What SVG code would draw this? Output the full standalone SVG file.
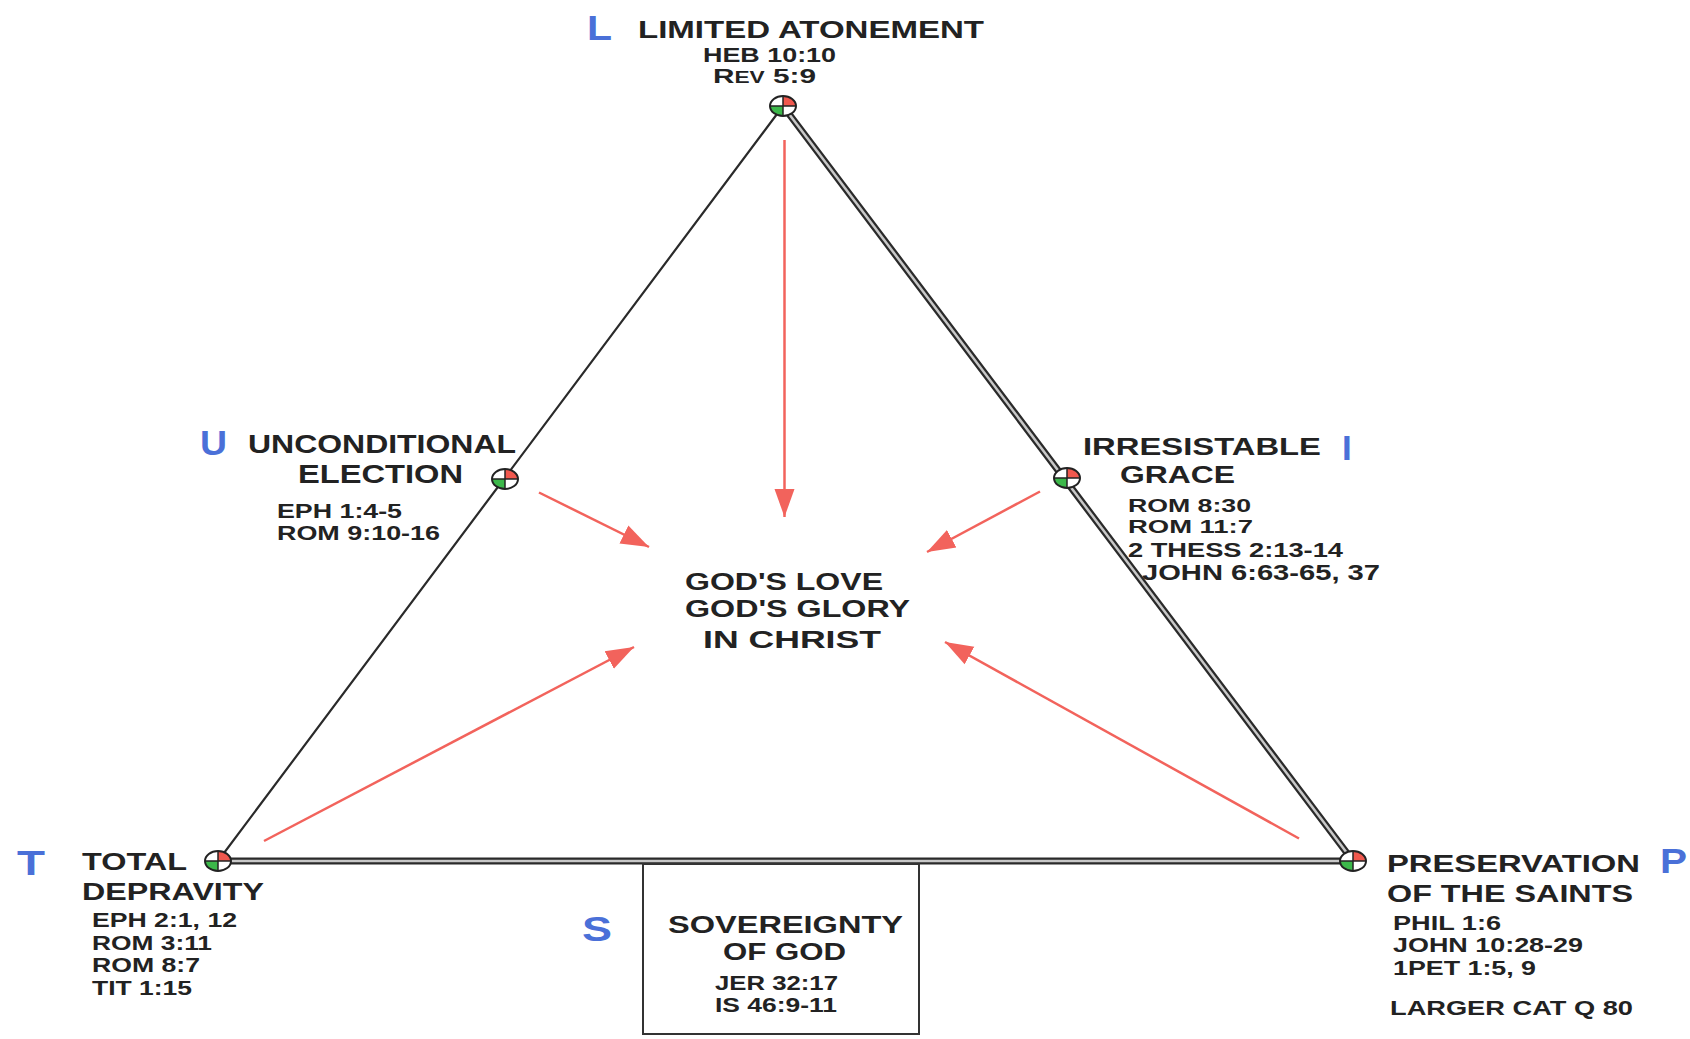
<svg xmlns="http://www.w3.org/2000/svg" width="1690" height="1039" viewBox="0 0 1690 1039">
<defs>
<style>
.t{font-family:"Liberation Sans",Arial,sans-serif;font-weight:bold;fill:#222}
.h{font-size:23px}
.r{font-size:20px}
.b{font-family:"Liberation Sans",Arial,sans-serif;font-weight:bold;fill:#4a70d8;font-size:35px}
.arr{stroke:#f2635c;stroke-width:2.5;fill:none}
.edge{stroke:#2a2a2a;fill:none;stroke-linecap:round}
</style>
<marker id="ah" markerUnits="userSpaceOnUse" markerWidth="30" markerHeight="22" refX="28" refY="11" orient="auto">
<path d="M0,1 L28,11 L0,21 Z" fill="#f2635c"/>
</marker>
<g id="icon">
<ellipse cx="0" cy="0" rx="13" ry="10" fill="#fff"/>
<path d="M0,0 L13,0 A13,10 0 0,0 0,-10 Z" fill="#f0584e"/>
<path d="M0,0 L-13,0 A13,10 0 0,0 0,10 Z" fill="#3cb84a"/>
<line x1="-13" y1="0" x2="13" y2="0" stroke="#222" stroke-width="1.5"/>
<line x1="0" y1="-10" x2="0" y2="10" stroke="#222" stroke-width="1.5"/>
<ellipse cx="0" cy="0" rx="13" ry="10" fill="none" stroke="#222" stroke-width="2"/>
</g>
</defs>
<rect width="1690" height="1039" fill="#fff"/>

<g id="connectors">
<line class="edge" x1="218" y1="861" x2="783" y2="106" stroke-width="2.2"/>
<line class="edge" x1="783" y1="106" x2="1353" y2="861" stroke-width="7"/>
<line x1="783" y1="106" x2="1353" y2="861" stroke="#c8c8c8" stroke-width="2.5"/>
<line class="edge" x1="218" y1="861" x2="1353" y2="861" stroke-width="7"/>
<line x1="218" y1="861" x2="1353" y2="861" stroke="#c8c8c8" stroke-width="2.5"/>
<line class="arr" x1="784.5" y1="140" x2="784.5" y2="517" marker-end="url(#ah)"/>
<line class="arr" x1="539" y1="492.5" x2="649" y2="547" marker-end="url(#ah)"/>
<line class="arr" x1="1040" y1="491.5" x2="927" y2="552" marker-end="url(#ah)"/>
<line class="arr" x1="264" y1="841" x2="634" y2="647" marker-end="url(#ah)"/>
<line class="arr" x1="1299" y1="838.5" x2="945" y2="642" marker-end="url(#ah)"/>
</g>

<g id="node-L">
<use href="#icon" x="783" y="106"/>
<text class="b" x="587" y="40" textLength="25" lengthAdjust="spacingAndGlyphs">L</text>
<text class="t h" x="638" y="38" textLength="346" lengthAdjust="spacingAndGlyphs">LIMITED ATONEMENT</text>
<text class="t r" x="703" y="61.5" textLength="133" lengthAdjust="spacingAndGlyphs">HEB 10:10</text>
<text class="t" x="713" y="83" textLength="103" lengthAdjust="spacingAndGlyphs"><tspan font-size="21">R</tspan><tspan font-size="16">EV</tspan><tspan font-size="21"> 5:9</tspan></text>
</g>

<g id="node-U">
<use href="#icon" x="505" y="479"/>
<text class="b" x="200" y="455" font-size="32" textLength="27" lengthAdjust="spacingAndGlyphs">U</text>
<text class="t" x="248" y="453" font-size="25" textLength="268" lengthAdjust="spacingAndGlyphs">UNCONDITIONAL</text>
<text class="t" x="298" y="483" font-size="25" textLength="165" lengthAdjust="spacingAndGlyphs">ELECTION</text>
<text class="t r" x="277" y="518" textLength="125" lengthAdjust="spacingAndGlyphs">EPH 1:4-5</text>
<text class="t r" x="277" y="540" textLength="163" lengthAdjust="spacingAndGlyphs">ROM 9:10-16</text>
</g>

<g id="node-I">
<use href="#icon" x="1067" y="478"/>
<text class="b" x="1342" y="460" font-size="37">I</text>
<text class="t h" x="1083" y="455" textLength="238" lengthAdjust="spacingAndGlyphs">IRRESISTABLE</text>
<text class="t h" x="1120" y="483" textLength="115" lengthAdjust="spacingAndGlyphs">GRACE</text>
<text class="t" x="1128" y="511.5" font-size="19" textLength="123" lengthAdjust="spacingAndGlyphs">ROM 8:30</text>
<text class="t" x="1128" y="533" font-size="19" textLength="125" lengthAdjust="spacingAndGlyphs">ROM 11:7</text>
<text class="t" x="1128" y="556.5" font-size="20" textLength="215" lengthAdjust="spacingAndGlyphs">2 THESS 2:13-14</text>
<text class="t" x="1142" y="580" font-size="22" textLength="238" lengthAdjust="spacingAndGlyphs">JOHN 6:63-65, 37</text>
</g>

<g id="node-T">
<use href="#icon" x="218" y="861"/>
<text class="b" x="17" y="875" textLength="28" lengthAdjust="spacingAndGlyphs">T</text>
<text class="t h" x="82" y="870" textLength="105" lengthAdjust="spacingAndGlyphs">TOTAL</text>
<text class="t h" x="82" y="900" textLength="182" lengthAdjust="spacingAndGlyphs">DEPRAVITY</text>
<text class="t r" x="92" y="926.5" textLength="145" lengthAdjust="spacingAndGlyphs">EPH 2:1, 12</text>
<text class="t r" x="92" y="950" textLength="120" lengthAdjust="spacingAndGlyphs">ROM 3:11</text>
<text class="t r" x="92" y="971.5" textLength="108" lengthAdjust="spacingAndGlyphs">ROM 8:7</text>
<text class="t r" x="92" y="995" textLength="100" lengthAdjust="spacingAndGlyphs">TIT 1:15</text>
</g>

<g id="node-P">
<use href="#icon" x="1353" y="861"/>
<text class="b" x="1660" y="873" font-size="34" textLength="27" lengthAdjust="spacingAndGlyphs">P</text>
<text class="t h" x="1387" y="871.5" textLength="253" lengthAdjust="spacingAndGlyphs">PRESERVATION</text>
<text class="t h" x="1387" y="901.5" textLength="246" lengthAdjust="spacingAndGlyphs">OF THE SAINTS</text>
<text class="t r" x="1393" y="930" textLength="108" lengthAdjust="spacingAndGlyphs">PHIL 1:6</text>
<text class="t r" x="1393" y="951.5" textLength="190" lengthAdjust="spacingAndGlyphs">JOHN 10:28-29</text>
<text class="t r" x="1393" y="975" textLength="143" lengthAdjust="spacingAndGlyphs">1PET 1:5, 9</text>
<text class="t r" x="1390" y="1015" textLength="243" lengthAdjust="spacingAndGlyphs">LARGER CAT Q 80</text>
</g>

<g id="node-S">
<rect x="643" y="864" width="276" height="170" fill="#fff" stroke="#333" stroke-width="2"/>
<text class="b" x="582" y="941" font-size="36" textLength="30" lengthAdjust="spacingAndGlyphs">S</text>
<text class="t" x="668" y="933" font-size="24" textLength="235" lengthAdjust="spacingAndGlyphs">SOVEREIGNTY</text>
<text class="t" x="723" y="960" font-size="24" textLength="123" lengthAdjust="spacingAndGlyphs">OF GOD</text>
<text class="t r" x="715" y="990" textLength="123" lengthAdjust="spacingAndGlyphs">JER 32:17</text>
<text class="t r" x="715" y="1011.5" textLength="122" lengthAdjust="spacingAndGlyphs">IS 46:9-11</text>
</g>

<g id="node-center">
<text class="t h" x="685" y="590" textLength="198" lengthAdjust="spacingAndGlyphs">GOD'S LOVE</text>
<text class="t h" x="685" y="616.5" textLength="225" lengthAdjust="spacingAndGlyphs">GOD'S GLORY</text>
<text class="t h" x="703" y="648" textLength="178" lengthAdjust="spacingAndGlyphs">IN CHRIST</text>
</g>
</svg>
